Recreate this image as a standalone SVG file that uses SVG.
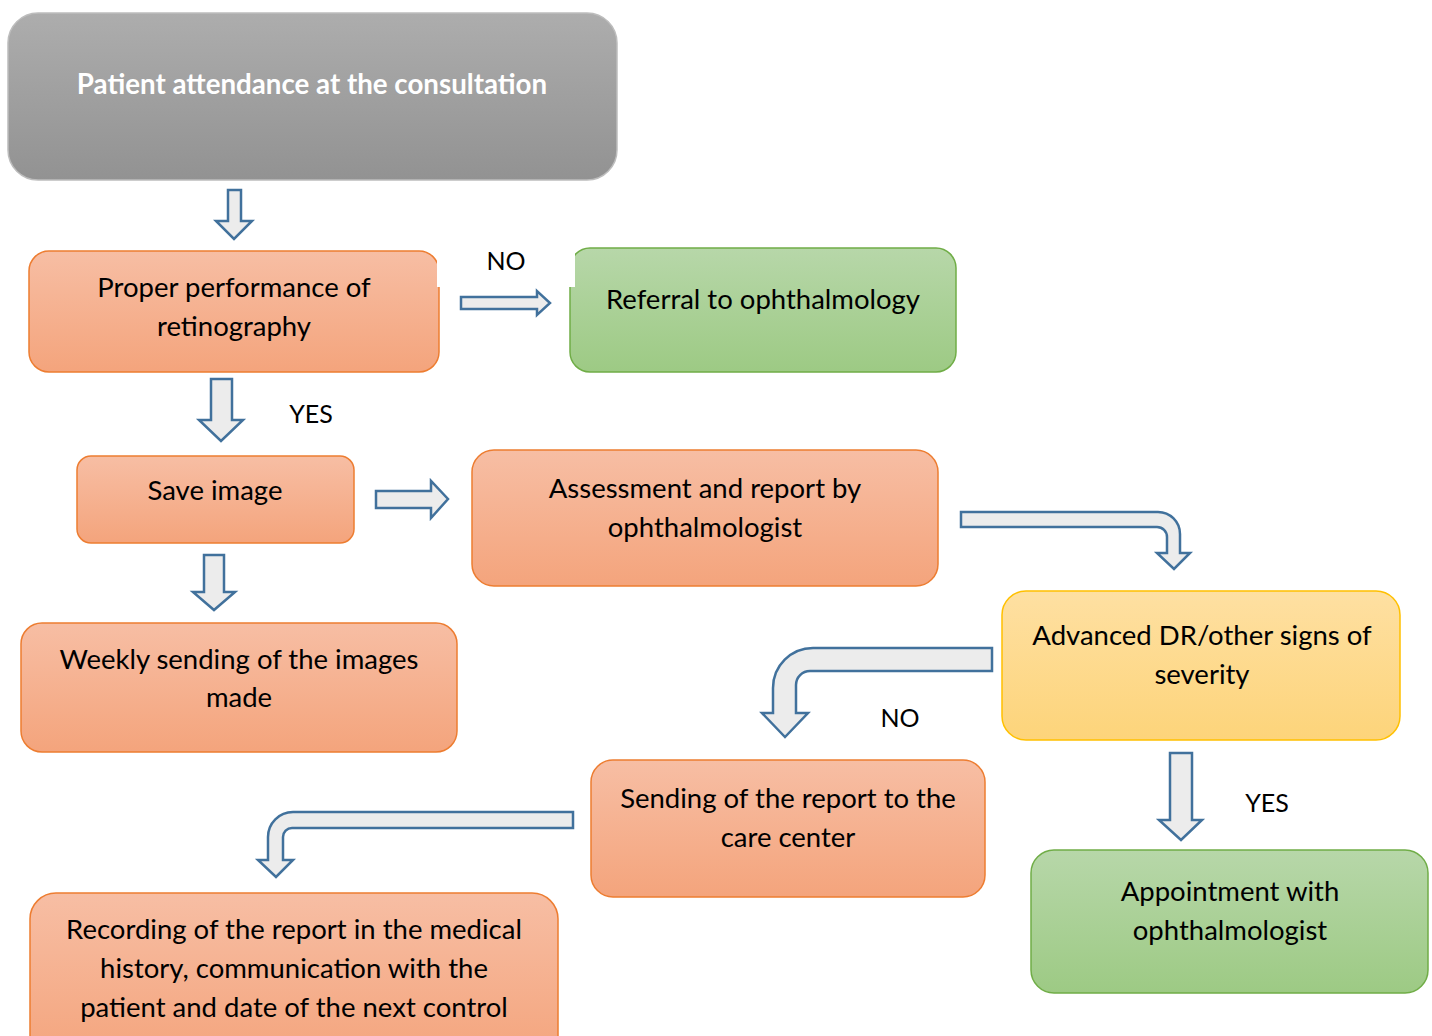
<svg xmlns="http://www.w3.org/2000/svg" width="1432" height="1036" viewBox="0 0 1432 1036">
<defs>
<linearGradient id="gGray" x1="0" y1="0" x2="0" y2="1"><stop offset="0" stop-color="#adadad"/><stop offset="1" stop-color="#929292"/></linearGradient>
<linearGradient id="gOrange" x1="0" y1="0" x2="0" y2="1"><stop offset="0" stop-color="#f7bea4"/><stop offset="1" stop-color="#f4a47c"/></linearGradient>
<linearGradient id="gGreen" x1="0" y1="0" x2="0" y2="1"><stop offset="0" stop-color="#b7d7a9"/><stop offset="1" stop-color="#9dca84"/></linearGradient>
<linearGradient id="gYellow" x1="0" y1="0" x2="0" y2="1"><stop offset="0" stop-color="#fee0a2"/><stop offset="1" stop-color="#fdd47a"/></linearGradient>
</defs>
<style>
text{font-family:Lato,"Open Sans","Liberation Sans",sans-serif;font-size:27.5px;fill:#000;text-anchor:middle}
.gray{fill:url(#gGray);stroke:#bdbdbd;stroke-width:1.5}
.orange{fill:url(#gOrange);stroke:#ed7d31;stroke-width:1.5}
.green{fill:url(#gGreen);stroke:#70ad47;stroke-width:1.5}
.yellow{fill:url(#gYellow);stroke:#ffc000;stroke-width:1.5}
.arrow{fill:#ececec;stroke:#41719c;stroke-width:2.5;stroke-linejoin:miter}
.title{fill:#fff;font-weight:bold;font-size:27.7px}
.lbl{font-size:25px}
</style>
<rect width="1432" height="1036" fill="#fff"/>

<g id="n-patient">
<rect class="gray" x="8" y="13" width="609" height="167" rx="30"/>
<text class="title" x="312" y="94">Patient attendance at the consultation</text>
</g>
<g id="n-proper">
<rect class="orange" x="29" y="251" width="410" height="121" rx="20"/>
<text x="234" y="297">Proper performance of</text>
<text x="234" y="336">retinography</text>
</g>
<g id="n-referral">
<rect class="green" x="570" y="248" width="386" height="124" rx="20"/>
<text x="763" y="309">Referral to ophthalmology</text>
</g>
<g id="n-save">
<rect class="orange" x="77" y="456" width="277" height="87" rx="14"/>
<text x="215" y="500">Save image</text>
</g>
<g id="n-assessment">
<rect class="orange" x="472" y="450" width="466" height="136" rx="22"/>
<text x="705" y="498">Assessment and report by</text>
<text x="705" y="537">ophthalmologist</text>
</g>
<g id="n-weekly">
<rect class="orange" x="21" y="623" width="436" height="129" rx="21"/>
<text x="239" y="669">Weekly sending of the images</text>
<text x="239" y="707">made</text>
</g>
<g id="n-advanced">
<rect class="yellow" x="1002" y="591" width="398" height="149" rx="24"/>
<text x="1202" y="645">Advanced DR/other signs of</text>
<text x="1202" y="684">severity</text>
</g>
<g id="n-sending">
<rect class="orange" x="591" y="760" width="394" height="137" rx="22"/>
<text x="788" y="808">Sending of the report to the</text>
<text x="788" y="847">care center</text>
</g>
<g id="n-appointment">
<rect class="green" x="1031" y="850" width="397" height="143" rx="23"/>
<text x="1230" y="901">Appointment with</text>
<text x="1230" y="940">ophthalmologist</text>
</g>
<g id="n-recording">
<rect class="orange" x="30" y="893" width="528" height="170" rx="26"/>
<text x="294" y="939">Recording of the report in the medical</text>
<text x="294" y="978">history, communication with the</text>
<text x="294" y="1017">patient and date of the next control</text>
</g>

<g id="connectors">
<rect x="437" y="238" width="138" height="49" fill="#fff"/>
<text class="lbl" x="506" y="270">NO</text>
<path class="arrow" d="M228,190 H241 V221 H252 L234,239 L216,221 H228 Z"/>
<path class="arrow" d="M461,297 H537 V291 L550,303 L537,315 V309 H461 Z"/>
<path class="arrow" d="M211,379 H232 V420 H243 L221,441 L199,420 H211 Z"/>
<text class="lbl" x="311" y="423">YES</text>
<path class="arrow" d="M376,491 H431 V481 L448,499 L431,518 V508 H376 Z"/>
<path class="arrow" d="M204,555 H224 V592 H235 L214,610 L193,592 H204 Z"/>
<path class="arrow" d="M961,512 H1158 A22,22 0 0 1 1180,534 V553 H1190 L1174,569 L1157,553 H1167 V537 A10,10 0 0 0 1157,527 H961 Z"/>
<path class="arrow" d="M992,648 V671 H810 A14,14 0 0 0 796,685 V713 H808 L785,737 L762,713 H773 V688 A40,40 0 0 1 813,648 Z"/>
<text class="lbl" x="900" y="727">NO</text>
<path class="arrow" d="M573,812 V828 H292 A9,9 0 0 0 283,837 V860 H293 L276,877 L258,860 H268 V837 A25,25 0 0 1 293,812 Z"/>
<path class="arrow" d="M1170,753 H1192 V820 H1202 L1181,840 L1159,820 H1170 Z"/>
<text class="lbl" x="1267" y="812">YES</text>
</g>
</svg>
